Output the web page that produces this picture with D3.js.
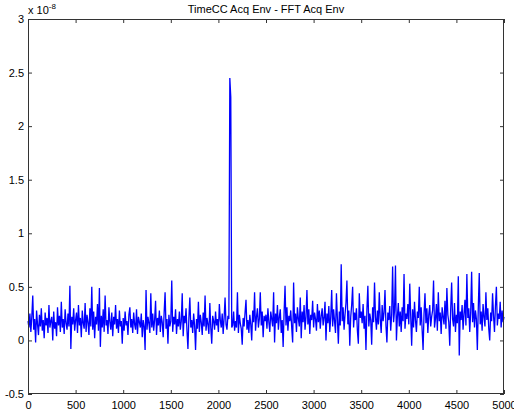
<!DOCTYPE html>
<html><head><meta charset="utf-8">
<script src="https://cdn.jsdelivr.net/npm/d3@7/dist/d3.min.js"></script>
<style>
body{margin:0;background:#fff}
text{font-family:Arial,"Liberation Sans",sans-serif;font-size:11px;fill:#000}
</style>
</head><body><svg id="c" width="514" height="417"></svg>
<script>
// values in units of 1e-8, one every sampleStep samples starting at sample 0
const sampleStep = 10;
const values = [
0.18,0.12,0.25,0.08,0.22,0.42,0.10,0.20,-0.02,0.28,0.15,0.05,0.24,0.13,0.30,0.09,0.19,0.02,0.26,0.14,0.21,0.07,0.33,0.12,0.18,
0.22,0.00,0.27,0.11,0.17,0.04,0.31,0.14,0.23,0.08,0.36,0.12,0.20,0.06,0.29,0.16,0.10,0.25,0.13,0.51,-0.08,0.22,0.15,0.30,0.09,
0.19,0.26,0.07,0.33,0.14,0.21,0.03,0.28,0.16,0.11,0.35,0.08,0.24,0.17,0.05,0.30,0.13,0.50,0.10,0.27,0.02,0.22,0.15,0.34,0.09,
0.49,-0.06,0.23,0.12,0.29,0.08,0.42,0.14,0.19,0.06,0.31,0.17,0.10,0.26,0.04,0.22,0.15,0.33,0.11,0.20,0.07,0.28,0.13,0.18,-0.03,
0.21,0.09,0.27,0.14,0.18,0.05,0.24,0.31,0.12,0.20,0.07,0.26,0.15,0.10,0.29,0.06,0.22,0.17,0.12,0.25,0.03,0.19,0.13,-0.09,0.47,
0.10,0.22,0.16,0.07,0.44,0.12,0.25,0.09,0.19,0.37,0.05,0.21,0.14,0.28,0.08,0.23,0.17,0.03,0.26,0.45,0.11,0.20,-0.03,0.24,0.13,
0.18,0.56,0.08,0.22,0.15,0.29,0.06,0.20,0.13,0.27,0.10,0.18,0.44,0.04,0.23,0.16,0.30,0.09,-0.08,0.21,0.40,0.12,0.19,0.07,0.25,
0.14,-0.09,0.20,0.11,0.36,0.08,0.24,0.17,0.05,0.26,0.13,0.42,0.09,0.21,0.15,0.06,0.35,0.12,-0.03,0.23,0.18,0.10,0.27,0.14,0.20,
0.08,0.34,0.19,0.12,0.25,0.06,0.21,0.40,0.15,0.10,0.23,0.20,2.45,2.27,0.12,0.14,0.27,0.09,0.18,0.12,0.45,0.07,0.24,0.16,0.11,
-0.04,0.21,0.13,0.26,0.38,0.10,0.19,0.07,0.24,0.15,0.00,0.28,0.17,0.45,0.09,0.22,0.30,0.12,0.20,0.45,0.14,0.27,0.03,0.23,0.18,
0.24,0.11,0.30,0.17,0.08,0.27,0.20,0.13,0.45,-0.02,0.25,0.16,0.33,0.10,0.22,0.29,0.07,0.19,-0.06,0.26,0.51,0.14,0.31,0.09,0.23,
0.18,0.28,0.12,-0.02,0.54,0.16,0.25,0.08,0.31,0.20,0.13,0.40,0.02,0.27,0.17,0.33,0.10,0.22,0.47,0.15,0.29,0.06,0.24,0.19,0.37,
0.12,0.26,0.20,0.09,0.34,0.17,0.28,0.11,0.23,0.30,0.14,0.21,0.36,0.00,0.25,0.16,0.32,0.08,0.22,0.47,0.13,0.29,0.18,0.07,0.44,
0.20,-0.03,0.27,0.14,0.71,0.18,0.31,0.10,0.24,0.35,0.56,0.15,0.28,-0.05,0.22,0.33,0.50,0.12,0.26,0.19,0.30,0.09,-0.03,0.44,0.21,
0.27,0.16,0.34,0.11,0.23,-0.09,0.29,0.51,0.13,0.25,0.19,-0.04,0.31,0.17,0.54,0.22,0.10,0.28,0.15,0.45,0.20,0.07,0.33,0.18,0.26,
0.47,0.14,-0.02,0.26,0.19,0.32,0.09,0.24,0.69,0.17,0.28,0.70,0.00,0.22,0.35,0.13,0.27,0.08,0.31,0.18,0.62,0.11,0.25,0.20,0.34,
0.15,0.53,0.23,-0.05,0.29,0.12,0.36,0.19,0.08,0.27,0.21,0.50,0.14,0.31,0.10,-0.09,0.25,0.44,0.16,0.30,0.07,0.24,0.33,0.13,0.22,
0.28,0.56,0.12,0.20,0.34,0.09,0.45,0.18,0.26,0.06,0.31,0.22,0.15,0.37,0.11,0.49,0.24,0.17,-0.05,0.29,0.54,0.20,0.13,0.35,0.08,
0.24,0.16,0.60,-0.14,0.27,0.19,0.33,0.10,0.25,0.38,0.14,0.62,0.21,0.30,0.08,0.26,0.64,0.17,0.35,0.12,0.28,0.20,-0.09,0.31,0.63,
0.15,0.27,0.09,0.34,0.22,0.13,0.45,0.19,0.30,0.11,0.00,0.26,0.18,0.44,0.23,0.08,0.32,0.50,0.14,0.25,0.20,0.36,0.12,0.28,0.17,
0.22
];
const xTicks = [0,500,1000,1500,2000,2500,3000,3500,4000,4500,5000];
const yTicks = [-0.5,0,0.5,1,1.5,2,2.5,3];
const yTickLabels = ["-0.5","0","0.5","1","1.5","2","2.5","3"];
const xDomain = [0,5000];
const yDomain = [-0.5,3];
const title = "TimeCC Acq Env - FFT Acq Env";
const exponent = "-8";

const svg = d3.select("#c");
const L = 28, R = 504, T = 19, B = 394;
const x = d3.scaleLinear().domain(xDomain).range([L, R]);
const y = d3.scaleLinear().domain(yDomain).range([B, T]);

// data line
const line = d3.line().x((d,i)=>x(i*sampleStep)).y(d=>y(d));
svg.append("path").datum(values)
  .attr("d", line).attr("fill","none")
  .attr("stroke","#0000ff").attr("stroke-width",1.3)
  .attr("stroke-linejoin","miter");

// axes
const axColor = "#333";
const gB = svg.append("g").attr("transform",`translate(0,${B})`)
  .call(d3.axisBottom(x).tickValues(xTicks).tickSize(-4).tickPadding(7).tickFormat(d3.format("d")));
const gT = svg.append("g").attr("transform",`translate(0,${T})`)
  .call(d3.axisTop(x).tickValues(xTicks).tickSize(-4).tickFormat(""));
const gL = svg.append("g").attr("transform",`translate(${L},0)`)
  .call(d3.axisLeft(y).tickValues(yTicks).tickSize(-4).tickPadding(4).tickFormat((d,i)=>yTickLabels[i]));
const gR = svg.append("g").attr("transform",`translate(${R},0)`)
  .call(d3.axisRight(y).tickValues(yTicks).tickSize(-4).tickFormat(""));
[gB,gT,gL,gR].forEach(g=>{
  g.select(".domain").remove();
  g.selectAll("line").attr("stroke",axColor);
  g.selectAll("text").attr("font-size",11).attr("font-family","Arial, 'Liberation Sans', sans-serif").attr("fill","#000");
});
svg.append("rect").attr("x",L+0.5).attr("y",T+0.5).attr("width",R-L-1).attr("height",B-T-1)
  .attr("fill","none").attr("stroke",axColor).attr("stroke-width",1);

// title
svg.append("text").attr("x",(L+R)/2).attr("y",13).attr("text-anchor","middle").text(title);

// exponent label
const ex = svg.append("text").attr("x",L).attr("y",14);
ex.append("tspan").text("x 10");
ex.append("tspan").attr("dy",-5).attr("font-size",8).text(exponent);
</script></body></html>
